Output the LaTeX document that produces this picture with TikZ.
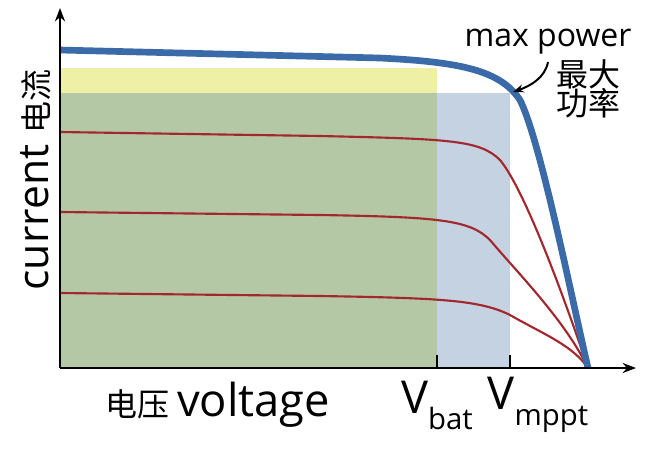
\documentclass[tikz,border=0pt]{standalone}
\usepackage{fontspec}
\setmainfont{Open Sans}
\newfontfamily\cjk{Noto Sans CJK SC}
\usetikzlibrary{arrows.meta}
\definecolor{yel}{HTML}{EEF0A6}
\definecolor{grn}{HTML}{B5C8A5}
\definecolor{blu}{HTML}{C4D2E2}
\definecolor{pv}{HTML}{3A6BA8}
\definecolor{rd}{HTML}{A3282E}
\tikzset{ivcurve/.style={rd,line width=1.6pt},lbl/.style={inner sep=0pt,text=black}}
\begin{document}
\begin{tikzpicture}[x=0.75pt,y=-0.75pt]
\useasboundingbox (0,0) rectangle (656,458);
\fill[yel] (60,68) rectangle (437,368);
\fill[blu] (60,93) rectangle (510,368);
\fill[grn] (60,93) rectangle (437,368);
\draw[ivcurve] (60,132) -- (320,136) .. controls (450,139) and (480,140) .. (500,160) .. controls (525,190) and (565,300) .. (588,368);
\draw[ivcurve] (60,212) -- (320,215) .. controls (440,217) and (470,220) .. (490,240) .. controls (515,270) and (565,320) .. (588,368);
\draw[ivcurve] (60,293) -- (320,296) .. controls (440,298) and (480,300) .. (510,315) .. controls (545,335) and (572,345) .. (588,368);
\draw[pv,line width=5pt] (60,50) -- (380,58) .. controls (460,62) and (500,70) .. (520,100) .. controls (540,140) and (570,290) .. (588,368);
\draw[line width=2pt,-{Stealth[length=10pt]}] (60,368) -- (60,8);
\draw[line width=2pt,-{Stealth[length=10pt]}] (60,368) -- (636,368);
\draw[line width=1.3pt] (437,355) -- (437,368) (510,355) -- (510,368);
\node[lbl,font=\fontsize{24}{26}\selectfont] (mp) at (548,42) {max power};
\node[lbl,font=\fontsize{24}{26}\cjk\selectfont] (zd) at (588,74) {最大};
\node[lbl,font=\fontsize{24}{26}\cjk\selectfont] (gl) at (588,103) {功率};
\coordinate (tip) at (513,92);
\draw[line width=1.5pt,-{Stealth[length=8pt]}] (548,62) .. controls (545,78) and (530,86) .. (tip);
\node[lbl,rotate=90,font=\fontsize{32}{34}\selectfont] (cur) at (36,180) {current \fontsize{24}{26}\cjk 电流};
\node[lbl,font=\fontsize{34}{36}\selectfont] (vol) at (218,405) {\fontsize{24}{26}\cjk 电压 \fontsize{34}{36}\rmfamily voltage};
\node[lbl,font=\fontsize{34}{36}\selectfont] (vb) at (437,405) {V\raisebox{-12pt}{\fontsize{22}{24}\selectfont bat}};
\node[lbl,font=\fontsize{34}{36}\selectfont] (vm) at (538,405) {V\raisebox{-12pt}{\fontsize{22}{24}\selectfont mppt}};
\end{tikzpicture}
\end{document}
